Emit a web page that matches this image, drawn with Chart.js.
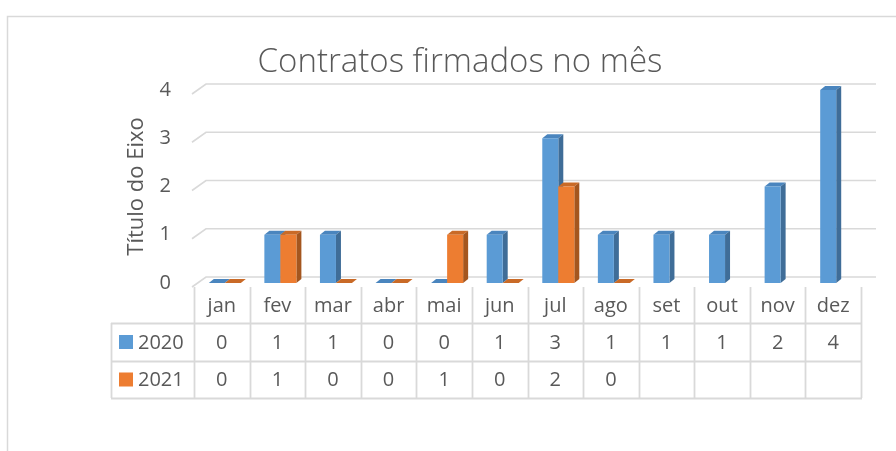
<!DOCTYPE html>
<html>
<head>
<meta charset="utf-8">
<script src="https://cdn.jsdelivr.net/npm/chart.js@4.4.1/dist/chart.umd.min.js"></script>
<style>
html,body{margin:0;padding:0;background:#fff;overflow:hidden;}
#wrap{position:relative;width:896px;height:451px;}
</style>
</head>
<body>
<div id="wrap"><canvas id="c" width="896" height="451"></canvas></div>
<script>
const categories = ['jan','fev','mar','abr','mai','jun','jul','ago','set','out','nov','dez'];
const series2020 = [0,1,1,0,0,1,3,1,1,1,2,4];
const series2021 = [0,1,0,0,1,0,2,0,null,null,null,null];
const seriesNames = ['2020','2021'];
const yTicks = [0,1,2,3,4];
const chartTitle = 'Contratos firmados no mês';
const yTitle = 'Título do Eixo';

const FRONT = ['#5B9BD5','#ED7D31'];
const SIDE = ['#3F6D98','#A4561F'];
const TOP = ['#4A85BE','#C96A27'];
const GRID = '#D9D9D9';
const TXT = '#595959';
const FONT = '"Open Sans", "Liberation Sans", sans-serif';

const threeD = {
  id: 'threeD',
  beforeDraw(chart) {
    const ctx = chart.ctx;
    ctx.save();
    ctx.strokeStyle = GRID;
    ctx.lineWidth = 1.5;
    ctx.beginPath();
    ctx.moveTo(7.5, 451);
    ctx.lineTo(7.5, 16.5);
    ctx.lineTo(896, 16.5);
    ctx.stroke();
    ctx.restore();
  },
  beforeDatasetsDraw(chart) {
    const ctx = chart.ctx, y = chart.scales.y, a = chart.chartArea;
    ctx.save();
    ctx.strokeStyle = GRID;
    ctx.lineWidth = 1.6;
    yTicks.forEach(v => {
      const py = y.getPixelForValue(v);
      ctx.beginPath();
      ctx.moveTo(a.left - 2, py + 4);
      ctx.lineTo(a.left + 12, py - 6);
      ctx.lineTo(a.right + 15, py - 6);
      ctx.stroke();
    });
    ctx.restore();
  },
  afterDatasetsDraw(chart) {
    const ctx = chart.ctx;
    const dx = 5, dy = 4, shift = 3;
    ctx.save();
    for (let i = 0; i < categories.length; i++) {
      for (let d = 0; d < chart.data.datasets.length; d++) {
        const val = chart.data.datasets[d].data[i];
        if (val === null || val === undefined) continue;
        const el = chart.getDatasetMeta(d).data[i];
        const l = el.x - el.width / 2 + shift, r = el.x + el.width / 2 + shift;
        const t = el.y, b = el.base;
        ctx.fillStyle = TOP[d];
        ctx.beginPath();
        ctx.moveTo(l, t); ctx.lineTo(l + dx, t - dy); ctx.lineTo(r + dx, t - dy); ctx.lineTo(r, t);
        ctx.closePath(); ctx.fill();
        if (b - t > 0.5) {
          ctx.fillStyle = SIDE[d];
          ctx.beginPath();
          ctx.moveTo(r, t); ctx.lineTo(r + dx, t - dy); ctx.lineTo(r + dx, b - dy); ctx.lineTo(r, b);
          ctx.closePath(); ctx.fill();
          ctx.fillStyle = FRONT[d];
          ctx.fillRect(l, t, r - l, b - t);
        }
      }
    }
    ctx.restore();
  },
  afterDraw(chart) {
    const ctx = chart.ctx, x = chart.scales.x, a = chart.chartArea;
    const n = categories.length;
    const cw = (a.right - a.left) / n;
    const rowTop = 287, r1 = 323, r2 = 361, r3 = 398, legL = 111;
    ctx.save();
    ctx.strokeStyle = GRID;
    ctx.lineWidth = 1.8;
    for (let i = 0; i <= n; i++) {
      const px = Math.round(a.left + i * cw) + 0.5;
      ctx.beginPath();
      ctx.moveTo(px, rowTop);
      ctx.lineTo(px, r3);
      ctx.stroke();
    }
    ctx.beginPath(); ctx.moveTo(legL + 0.5, r1); ctx.lineTo(legL + 0.5, r3); ctx.stroke();
    [r1, r2, r3].forEach(ry => {
      ctx.beginPath(); ctx.moveTo(legL, ry + 0.5); ctx.lineTo(a.right + 1, ry + 0.5); ctx.stroke();
    });
    ctx.fillStyle = TXT;
    ctx.font = '20px ' + FONT;
    ctx.textAlign = 'center';
    ctx.textBaseline = 'middle';
    const rows = [series2020, series2021];
    for (let i = 0; i < n; i++) {
      const cx = x.getPixelForValue(i);
      ctx.fillText(categories[i], cx, (rowTop + r1) / 2 + 1);
      rows.forEach((arr, k) => {
        const v = arr[i];
        if (v === null || v === undefined) return;
        const ry = k === 0 ? (r1 + r2) / 2 : (r2 + r3) / 2;
        ctx.fillText(String(v), cx, ry + 1);
      });
    }
    ctx.textAlign = 'left';
    seriesNames.forEach((nm, k) => {
      const ry = k === 0 ? (r1 + r2) / 2 : (r2 + r3) / 2;
      ctx.fillStyle = FRONT[k];
      ctx.fillRect(119, ry - 7, 14, 14);
      ctx.fillStyle = TXT;
      ctx.fillText(nm, 138, ry + 1);
    });
    ctx.restore();
  }
};

new Chart(document.getElementById('c'), {
  type: 'bar',
  data: {
    labels: categories,
    datasets: [
      { label: seriesNames[0], data: series2020, backgroundColor: 'rgba(0,0,0,0)' },
      { label: seriesNames[1], data: series2021, backgroundColor: 'rgba(0,0,0,0)' }
    ]
  },
  options: {
    responsive: false,
    animation: false,
    events: [],
    layout: { padding: { left: 59, right: 35, top: 0, bottom: 168 } },
    categoryPercentage: 0.576,
    barPercentage: 1.0,
    plugins: {
      legend: { display: false },
      tooltip: { enabled: false },
      title: {
        display: true,
        text: chartTitle,
        color: TXT,
        font: { family: FONT, size: 33, weight: '300', lineHeight: 1.2 },
        padding: { top: 43, bottom: 7.4 }
      }
    },
    scales: {
      x: { display: false },
      y: {
        min: 0, max: 4,
        afterFit(scale) { scale.width = 135; },
        grid: { display: false, drawTicks: false },
        border: { display: false },
        ticks: { stepSize: 1, color: TXT, font: { family: FONT, size: 20 }, padding: 23 },
        title: {
          display: true, text: yTitle, color: TXT,
          font: { family: FONT, size: 22 },
          padding: { top: 65, bottom: 0 }
        }
      }
    }
  },
  plugins: [threeD]
});
</script>
</body>
</html>
